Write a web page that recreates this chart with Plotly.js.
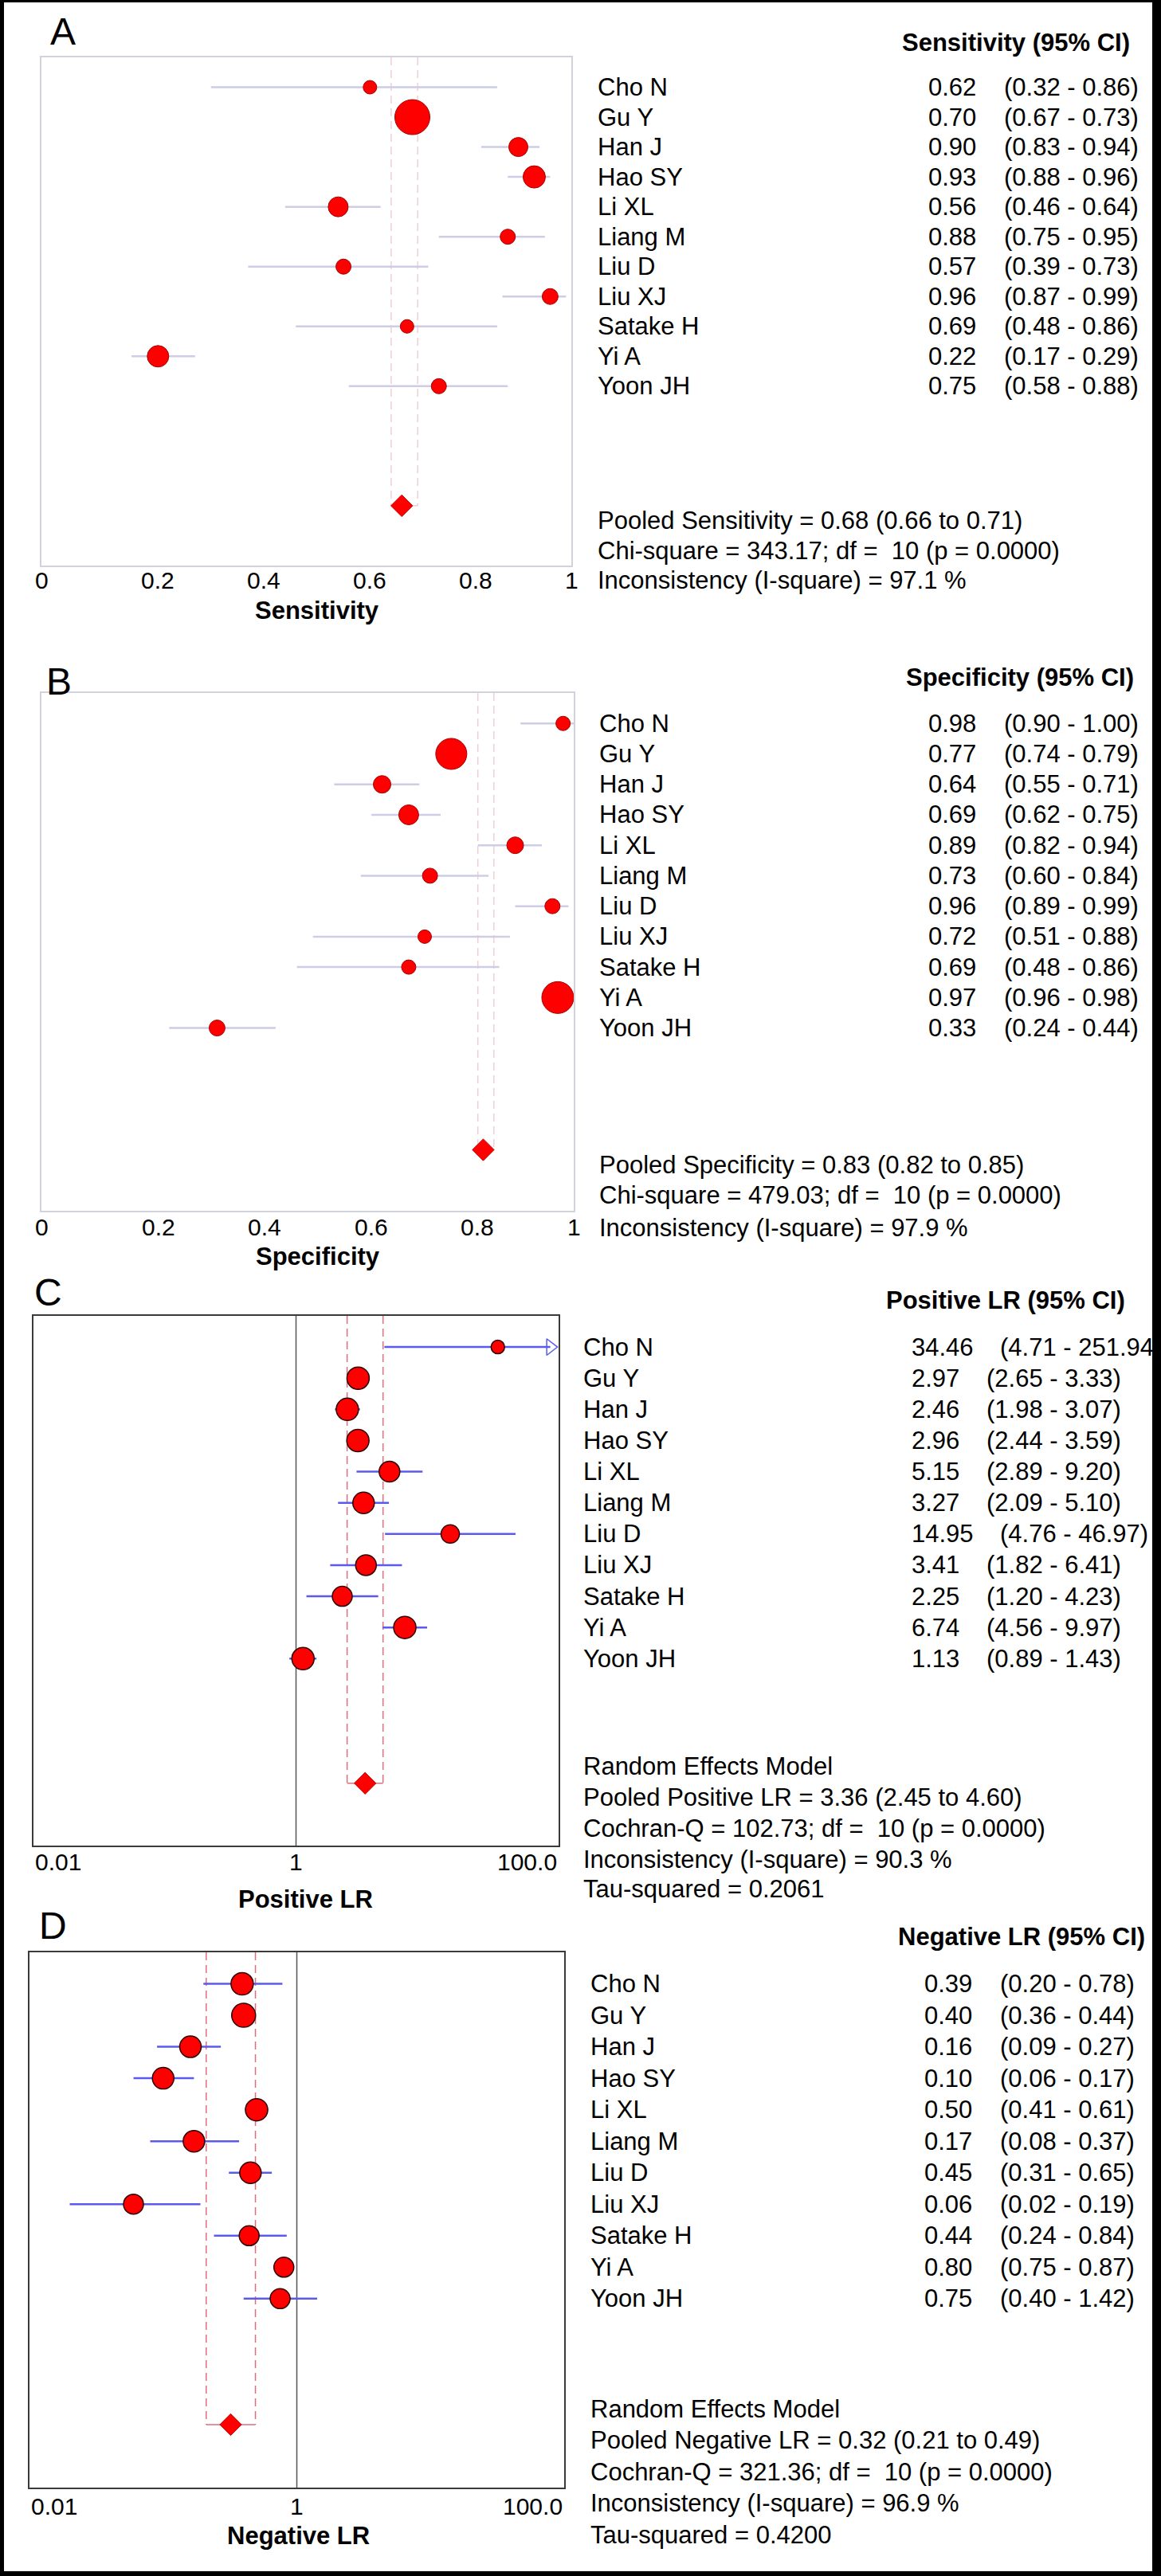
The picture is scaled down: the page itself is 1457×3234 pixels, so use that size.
<!DOCTYPE html>
<html><head><meta charset="utf-8">
<script src="https://cdn.plot.ly/plotly-3.0.1.min.js"></script>
<style>html,body{margin:0;padding:0;background:#fff}</style>
</head><body><div id="chart" style="width:1457px;height:3234px"></div>
<script>
const studies = ["Cho N","Gu Y","Han J","Hao SY","Li XL","Liang M","Liu D","Liu XJ","Satake H","Yi A","Yoon JH"];

const sensEst = [0.62,0.70,0.90,0.93,0.56,0.88,0.57,0.96,0.69,0.22,0.75];
const sensLo  = [0.32,0.67,0.83,0.88,0.46,0.75,0.39,0.87,0.48,0.17,0.58];
const sensHi  = [0.86,0.73,0.94,0.96,0.64,0.95,0.73,0.99,0.86,0.29,0.88];
const sensWeight = [17,44,24,28,25,19,19,20,17,27,19];
const sensPooled = [0.68,0.66,0.71];
const sensStats = ["Pooled Sensitivity = 0.68 (0.66 to 0.71)","Chi-square = 343.17; df =\u00a0 10 (p = 0.0000)","Inconsistency (I-square) = 97.1 %"];

const specEst = [0.98,0.77,0.64,0.69,0.89,0.73,0.96,0.72,0.69,0.97,0.33];
const specLo  = [0.90,0.74,0.55,0.62,0.82,0.60,0.89,0.51,0.48,0.96,0.24];
const specHi  = [1.00,0.79,0.71,0.75,0.94,0.84,0.99,0.88,0.86,0.98,0.44];
const specWeight = [18,39,22,25,21,19,19,17,18,40,20];
const specPooled = [0.83,0.82,0.85];
const specStats = ["Pooled Specificity = 0.83 (0.82 to 0.85)","Chi-square = 479.03; df =\u00a0 10 (p = 0.0000)","Inconsistency (I-square) = 97.9 %"];

const plrEst = [34.46,2.97,2.46,2.96,5.15,3.27,14.95,3.41,2.25,6.74,1.13];
const plrLo  = [4.71,2.65,1.98,2.44,2.89,2.09,4.76,1.82,1.20,4.56,0.89];
const plrHi  = [251.94,3.33,3.07,3.59,9.20,5.10,46.97,6.41,4.23,9.97,1.43];
const plrWeight = [17,28,28,28,26,27,23,26,25,28,28];
const plrPooled = [3.36,2.45,4.60];
const plrStats = ["Random Effects Model","Pooled Positive LR = 3.36 (2.45 to 4.60)","Cochran-Q = 102.73; df =\u00a0 10 (p = 0.0000)","Inconsistency (I-square) = 90.3 %","Tau-squared = 0.2061"];

const nlrEst = [0.39,0.40,0.16,0.10,0.50,0.17,0.45,0.06,0.44,0.80,0.75];
const nlrLo  = [0.20,0.36,0.09,0.06,0.41,0.08,0.31,0.02,0.24,0.75,0.40];
const nlrHi  = [0.78,0.44,0.27,0.17,0.61,0.37,0.65,0.19,0.84,0.87,1.42];
const nlrWeight = [28,30,27,27,28,27,27,25,25,25,25];
const nlrPooled = [0.32,0.21,0.49];
const nlrStats = ["Random Effects Model","Pooled Negative LR = 0.32 (0.21 to 0.49)","Cochran-Q = 321.36; df =\u00a0 10 (p = 0.0000)","Inconsistency (I-square) = 96.9 %","Tau-squared = 0.4200"];

const linTicks = [0,0.2,0.4,0.6,0.8,1];
const linTickText = ["0","0.2","0.4","0.6","0.8","1"];
const logTicks = [0.01,1,100];
const logTickText = ["0.01","1","100.0"];

const W = 1457, H = 3234;
const px = v => v / W;
const py = v => 1 - v / H;
const FONT = "Liberation Sans, Arial, sans-serif";

const panels = [
  {est:sensEst, lo:sensLo, hi:sensHi, wt:sensWeight, pooled:sensPooled, stats:sensStats, log:false,
   box:[52,717,72,710], header:"Sensitivity (95% CI)", headerX:1130, nameX:748, valX:1163, ciX:1258, ciShift:0,
   statsRows:[14.5,15.5,16.5], letter:"A", letterXY:[79,40], title:"Sensitivity", titleXY:[398,767], tickY:728,
   frame:"#d2d2dc", frameW:2, ciColor:"#cdcde6", dashColor:"#efc3cb", dashW:1.2, mLine:"#a00000", mLineW:1, refLine:false},
  {est:specEst, lo:specLo, hi:specHi, wt:specWeight, pooled:specPooled, stats:specStats, log:false,
   box:[52,720,870,1520], header:"Specificity (95% CI)", headerX:1135, nameX:750, valX:1163, ciX:1258, ciShift:0,
   statsRows:[14.5,15.5,16.55], letter:"B", letterXY:[74,856], title:"Specificity", titleXY:[399,1577], tickY:1540,
   frame:"#d2d2dc", frameW:2, ciColor:"#cdcde6", dashColor:"#efc3cb", dashW:1.2, mLine:"#a00000", mLineW:1, refLine:false},
  {est:plrEst, lo:plrLo, hi:plrHi, wt:plrWeight, pooled:plrPooled, stats:plrStats, log:true,
   box:[42,701,1652,2317], header:"Positive LR (95% CI)", headerX:1110, nameX:730, valX:1142, ciX:1236, ciShift:17,
   statsRows:[13.45,14.45,15.45,16.45,17.4], letter:"C", letterXY:[60,1622], title:"Positive LR", titleXY:[383,2384], tickY:2337,
   frame:"#3a3a3a", frameW:2, ciColor:"#5a5aee", dashColor:"#d9707e", dashW:1.5, mLine:"#2a0000", mLineW:1.5, refLine:true},
  {est:nlrEst, lo:nlrLo, hi:nlrHi, wt:nlrWeight, pooled:nlrPooled, stats:nlrStats, log:true,
   box:[37,708,2451,3123], header:"Negative LR (95% CI)", headerX:1125, nameX:739, valX:1158, ciX:1253, ciShift:0,
   statsRows:[13.5,14.5,15.5,16.5,17.5], letter:"D", letterXY:[66,2417], title:"Negative LR", titleXY:[375,3183], tickY:3146,
   frame:"#3a3a3a", frameW:2, ciColor:"#5a5aee", dashColor:"#d9707e", dashW:1.5, mLine:"#2a0000", mLineW:1.5, refLine:true}
];

const POOL_ROW = 14, Y_TOP = -1, Y_BOT = 16;
const rowDom = r => 1 - (r - Y_TOP) / (Y_BOT - Y_TOP);   // row -> fraction of y domain (not clipped)
const data = [];
const layout = {width:W, height:H, margin:{l:0,r:0,t:0,b:0}, paper_bgcolor:"#fff", plot_bgcolor:"#fff",
  showlegend:false, annotations:[], shapes:[], font:{family:FONT, color:"#000"}};

function ann(o){ layout.annotations.push(Object.assign({showarrow:false, font:{family:FONT, size:31, color:"#000"}}, o)); }

panels.forEach((p, k) => {
  const n = k + 1;
  const xa = n === 1 ? "x" : "x" + n, ya = n === 1 ? "y" : "y" + n;
  const xk = n === 1 ? "xaxis" : "xaxis" + n, yk = n === 1 ? "yaxis" : "yaxis" + n;
  const yd = ya + " domain";
  const [l, r, t, b] = p.box;
  const xMax = p.log ? 100 : 1;
  layout[xk] = {domain:[px(l), px(r)], type: p.log ? "log" : "linear", range: p.log ? [-2, 2] : [0, 1],
    anchor: ya, showgrid:false, zeroline:false, showticklabels:false, ticks:"", showline:true, mirror:true,
    linecolor:p.frame, linewidth:p.frameW, fixedrange:true};
  layout[yk] = {domain:[py(b), py(t)], range:[Y_BOT, Y_TOP], anchor: xa, showgrid:false, zeroline:false,
    showticklabels:false, ticks:"", showline:true, mirror:true, linecolor:p.frame, linewidth:p.frameW, fixedrange:true};

  const rows = p.est.map((_, i) => i);
  const arrowX = p.log ? Math.pow(10, 2 - 0.063) : xMax;

  if (p.refLine) {
    data.push({type:"scatter", mode:"lines", xaxis:xa, yaxis:ya, x:[1,1], y:[Y_TOP, Y_BOT],
      line:{color:"#555", width:1.5}, hoverinfo:"skip"});
  }
  const [pe, plo, phi] = p.pooled;
  data.push({type:"scatter", mode:"lines", xaxis:xa, yaxis:ya,
    x:[plo, plo, null, phi, phi], y:[Y_TOP, POOL_ROW, null, Y_TOP, POOL_ROW],
    line:{color:p.dashColor, width:p.dashW, dash:"10px,6px"}, hoverinfo:"skip"});
  data.push({type:"scatter", mode:"lines", xaxis:xa, yaxis:ya,
    x:[plo, phi], y:[POOL_ROW, POOL_ROW], line:{color:p.dashColor, width:p.dashW}, hoverinfo:"skip"});

  const cx = [], cy = [], ax = [], ay = [];
  rows.forEach(i => {
    const over = p.hi[i] > xMax;
    cx.push(p.lo[i], over ? arrowX : p.hi[i], null);
    cy.push(i, i, null);
    if (over) { ax.push(arrowX); ay.push(i); }
  });
  data.push({type:"scatter", mode:"lines", xaxis:xa, yaxis:ya, x:cx, y:cy,
    line:{color:p.ciColor, width:2.5}, hoverinfo:"skip"});
  if (ax.length) {
    data.push({type:"scatter", mode:"markers", xaxis:xa, yaxis:ya, x:ax, y:ay, cliponaxis:false,
      marker:{symbol:"triangle-right-open", size:18, opacity:1, color:p.ciColor, line:{color:p.ciColor, width:1.5}}, hoverinfo:"skip"});
  }
  data.push({type:"scatter", mode:"markers", xaxis:xa, yaxis:ya, x:p.est, y:rows, cliponaxis:false,
    marker:{symbol:"circle", size:p.wt, opacity:1, color:"#ff0000", line:{color:p.mLine, width:p.mLineW}},
    text:studies, hoverinfo:"text+x"});
  data.push({type:"scatter", mode:"markers", xaxis:xa, yaxis:ya, x:[pe], y:[POOL_ROW],
    marker:{symbol:"diamond", size:21, opacity:1, color:"#ff0000", line:{color:"#c00000", width:1}}, hoverinfo:"x"});

  // right-side table
  ann({xref:"paper", x:px(p.headerX), xanchor:"left", yref:yd, y:rowDom(-1.5), yanchor:"middle", text:"<b>" + p.header + "</b>"});
  rows.forEach(i => {
    const val = p.est[i].toFixed(2);
    ann({xref:"paper", x:px(p.nameX), xanchor:"left", yref:yd, y:rowDom(i), yanchor:"middle", text:studies[i]});
    ann({xref:"paper", x:px(p.valX), xanchor:"left", yref:yd, y:rowDom(i), yanchor:"middle", text:val});
    ann({xref:"paper", x:px(p.ciX + (val.length > 4 ? p.ciShift : 0)), xanchor:"left", yref:yd, y:rowDom(i), yanchor:"middle",
      text:"(" + p.lo[i].toFixed(2) + " - " + p.hi[i].toFixed(2) + ")"});
  });
  p.stats.forEach((s, j) => {
    ann({xref:"paper", x:px(p.nameX), xanchor:"left", yref:yd, y:rowDom(p.statsRows[j]), yanchor:"middle", text:s});
  });

  ann({xref:"paper", yref:"paper", x:px(p.letterXY[0]), y:py(p.letterXY[1]), xanchor:"center", yanchor:"middle",
    text:p.letter, font:{family:FONT, size:48, color:"#000"}});
  ann({xref:"paper", yref:"paper", x:px(p.titleXY[0]), y:py(p.titleXY[1]), xanchor:"center", yanchor:"middle",
    text:"<b>" + p.title + "</b>", font:{family:FONT, size:31, color:"#000"}});

  const tv = p.log ? logTicks : linTicks, tt = p.log ? logTickText : linTickText;
  tv.forEach((v, j) => {
    let xanchor = "center", xshift = 0;
    if (p.log) { xanchor = j === 0 ? "left" : (j === tv.length - 1 ? "right" : "center"); }
    else if (j > 0 && j < tv.length - 1) { xshift = 13; }
    ann({xref:xa, x: p.log ? Math.log10(v) : v, yref:"paper", y:py(p.tickY), xanchor:xanchor, yanchor:"middle",
      xshift:xshift, text:tt[j], font:{family:FONT, size:30, color:"#000"}});
  });
});

[[0,0,5,H],[0,0,W,3],[W-11,0,W,H],[0,H-6,W,H]].forEach(b => {
  layout.shapes.push({type:"rect", xref:"paper", yref:"paper", x0:px(b[0]), x1:px(b[2]), y0:py(b[3]), y1:py(b[1]),
    fillcolor:"#000", line:{width:0}, layer:"above"});
});

Plotly.newPlot("chart", data, layout, {displayModeBar:false, staticPlot:true});
</script>
</body></html>
